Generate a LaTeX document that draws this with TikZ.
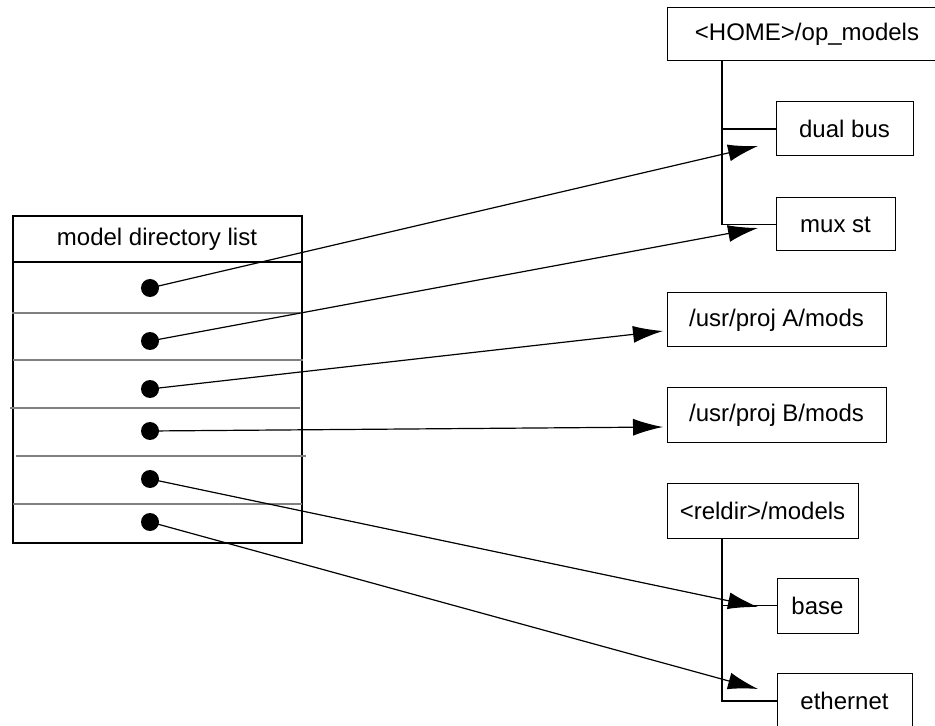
\documentclass[tikz,border=0pt]{standalone}
\usepackage{fontspec}
\setmainfont{Liberation Sans}
\usetikzlibrary{arrows.meta}

\begin{document}
\begin{tikzpicture}[x=0.5pt, y=-0.5pt, font=\fontsize{12}{14}\selectfont,
    dirbox/.style={draw, line width=0.5pt, inner sep=0pt, minimum height=27pt},
    slot/.style={fill, circle, inner sep=0pt, minimum size=9pt},
    link/.style={-{Latex[length=15pt, width=8.5pt]}, line width=0.6pt},
    stem/.style={line width=0.6pt}]
    \useasboundingbox (0,0) rectangle (935,726);

    % the list on the left
    \draw[line width=1.3pt] (13,216) rectangle (302,543);
    \draw[line width=1.3pt] (13,262)--(302,262);
    \node (listhead) at (157,239) {model directory list};

    \draw[gray, line width=1pt] (12,313)--(300,313);
    \draw[gray, line width=1pt] (13,360)--(303,360);
    \draw[gray, line width=1pt] (10,408)--(300,408);
    \draw[gray, line width=1pt] (16,456)--(306,456);
    \draw[gray, line width=1pt] (13,504)--(302,504);

    \node[slot] (slot1) at (150,288) {};
    \node[slot] (slot2) at (150,341) {};
    \node[slot] (slot3) at (150,389) {};
    \node[slot] (slot4) at (150,431) {};
    \node[slot] (slot5) at (150,479) {};
    \node[slot] (slot6) at (150,522) {};

    % directories on the right
    \node[dirbox, minimum width=140pt, minimum height=26.5pt] (home) at (807,34.5) {<HOME>/op\_models};
    \node[dirbox, minimum width=68.5pt] (dualbus) at (844.5,129) {dual bus};
    \node[dirbox, minimum width=59.5pt, minimum height=26.5pt] (muxst) at (835.5,224.5) {mux st};
    \node[dirbox, minimum width=109.5pt] (projA) at (776.5,320) {/usr/proj A/mods};
    \node[dirbox, minimum width=109.5pt] (projB) at (776.5,415) {/usr/proj B/mods};
    \node[dirbox, minimum width=95.5pt, minimum height=27.5pt] (reldir) at (762.5,510.5) {<reldir>/models};
    \node[dirbox, minimum width=40.5pt, minimum height=27.5pt] (base) at (817.5,605.5) {base};
    \node[dirbox, minimum width=67.5pt, minimum height=28pt] (ethernet) at (844.5,701) {ethernet};

    \coordinate (homestem) at (722,61);
    \coordinate (relstem) at (722,538);

    \draw[stem] (homestem) |- (muxst.west);
    \draw[stem] (homestem |- dualbus.west)--(dualbus.west);
    \draw[stem] (relstem) |- (ethernet.west);
    \draw[stem] (relstem |- base.west)--(base.west);

    % where the arrows end
    \coordinate (tip1) at (758,146);
    \coordinate (tip2) at (758,228);
    \coordinate (tip3) at (663,331);
    \coordinate (tip4) at (663,427);
    \coordinate (tip5) at (758,607);
    \coordinate (tip6) at (758,689);

    \draw[link] (slot1.center)--(tip1);
    \draw[link] (slot2.center)--(tip2);
    \draw[link] (slot3.center)--(tip3);
    \draw[link] (slot4.center)--(tip4);
    \draw[link] (slot5.center)--(tip5);
    \draw[link] (slot6.center)--(tip6);

\end{tikzpicture}
\end{document}
